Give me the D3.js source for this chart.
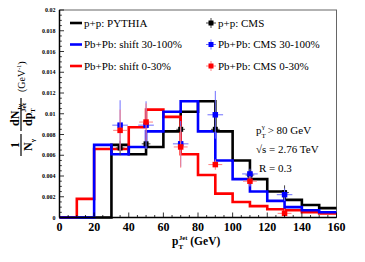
<!DOCTYPE html>
<html>
<head>
<meta charset="utf-8">
<script src="https://cdn.jsdelivr.net/npm/d3@7"></script>
<style>
  body { margin: 0; background: #fff; }
  svg text { font-family: 'Liberation Serif', 'DejaVu Serif', serif; }
</style>
</head>
<body>
<script>
// bin edges of the histograms (GeV)
const binEdges = [0, 10, 20, 30, 40, 50, 60, 70, 80, 90, 100, 110, 120, 130, 140, 150, 160];

// histogram contents, one per bin
const pythiaPP = [0, 0, 0, 0.0070, 0.0061, 0.0068, 0.0083, 0.0102, 0.0112, 0.0083, 0.0055, 0.0037, 0.0025, 0.0017, 0.0012, 0.0009];
const shift30100 = [0, 0, 0.0070, 0.0061, 0.0068, 0.0083, 0.0102, 0.0112, 0.0083, 0.0055, 0.0037, 0.0025, 0.0016, 0.0010, 0.0007, 0.0005];
const shift030 = [0, 0.0018, 0.0066, 0.0066, 0.0087, 0.0104, 0.0097, 0.0061, 0.0041, 0.0023, 0.0015, 0.0011, 0.0008, 0.0007, 0.0005, 0.0004];

// CMS points
const cmsX = [35, 50, 70, 90, 110, 130];
const ppCms = [0.0067, 0.0071, 0.0085, 0.0085, 0.0041, 0.0024];
const ppCmsErr = [0.0007, 0.0005, 0.0005, 0.0004, 0.0004, 0.0007];
const pb30100Cms = [0.0089, 0.0089, 0.0071, 0.0099, 0.0042, 0.0022];
const pb30100Err = [0.0024, 0.0023, 0.0022, 0.0023, 0.0005, 0.0006];
const pb030Cms = [0.0084, 0.0092, 0.0068, 0.0051, 0.0035, 0.0004];
const pb030Err = [0.0020, 0.0018, 0.0020, 0.0005, 0.0005, 0.0004];

const xTicks = [0, 20, 40, 60, 80, 100, 120, 140, 160];
const yTicks = [0, 0.002, 0.004, 0.006, 0.008, 0.01, 0.012, 0.014, 0.016, 0.018, 0.02];
const yTickLabels = ['0', '0.002', '0.004', '0.006', '0.008', '0.01', '0.012', '0.014', '0.016', '0.018', '0.02'];

const W = 365, H = 262;
const margin = { left: 59.5, right: 28.5, top: 10, bottom: 44.5 };

const svg = d3.select('body').append('svg')
  .attr('width', W).attr('height', H);

const x = d3.scaleLinear().domain([0, 160]).range([margin.left, W - margin.right]);
const y = d3.scaleLinear().domain([0, 0.02]).range([H - margin.bottom, margin.top]);

// frame (top and right in grey)
svg.append('rect')
  .attr('x', x(0)).attr('y', y(0.02))
  .attr('width', x(160) - x(0)).attr('height', y(0) - y(0.02))
  .attr('fill', 'none').attr('stroke', '#666').attr('stroke-width', 1);

// histograms as step lines
function histo(vals, color) {
  const pts = [];
  vals.forEach((v, i) => {
    pts.push([binEdges[i], v]);
    pts.push([binEdges[i + 1], v]);
  });
  pts.unshift([0, 0]);
  svg.append('path')
    .attr('d', d3.line().x(d => x(d[0])).y(d => y(d[1]))(pts))
    .attr('fill', 'none')
    .attr('stroke', color)
    .attr('stroke-width', 2.6)
    .attr('stroke-linejoin', 'miter');
}
histo(pythiaPP, '#000');
histo(shift030, '#ff0000');
histo(shift30100, '#0000ff');

// CMS points with error bars
function points(vals, errs, xErr, color, barColor, size) {
  const g = svg.append('g');
  cmsX.forEach((xv, i) => {
    g.append('line')
      .attr('x1', x(xv)).attr('x2', x(xv))
      .attr('y1', y(vals[i] - errs[i])).attr('y2', y(vals[i] + errs[i]))
      .attr('stroke', barColor).attr('stroke-width', 1);
    g.append('line')
      .attr('x1', x(xv - xErr)).attr('x2', x(xv + xErr))
      .attr('y1', y(vals[i])).attr('y2', y(vals[i]))
      .attr('stroke', barColor).attr('stroke-width', 1);
    g.append('rect')
      .attr('x', x(xv) - size / 2).attr('y', y(vals[i]) - size / 2)
      .attr('width', size).attr('height', size)
      .attr('fill', color);
  });
}
points(ppCms, ppCmsErr, 2.5, '#000', '#444', 5);
points(pb30100Cms, pb30100Err, 4.5, '#0000ff', '#6f6fff', 5.5);
points(pb030Cms, pb030Err, 4, '#ff0000', '#ff8080', 5.5);

// axes
const xAxis = svg.append('g');
xAxis.append('line')
  .attr('x1', x(0)).attr('x2', x(160)).attr('y1', y(0)).attr('y2', y(0))
  .attr('stroke', '#000').attr('stroke-width', 1.5);
d3.range(0, 161, 5).forEach(t => {
  const major = t % 20 === 0;
  xAxis.append('line')
    .attr('x1', x(t)).attr('x2', x(t))
    .attr('y1', y(0)).attr('y2', y(0) - (major ? 5 : 2.5))
    .attr('stroke', '#000').attr('stroke-width', 0.8);
});
xAxis.selectAll('text.tick').data(xTicks).join('text')
  .attr('class', 'tick')
  .attr('x', d => x(d)).attr('y', 231)
  .attr('text-anchor', 'middle')
  .attr('font-size', 12).attr('font-weight', 'bold')
  .text(d => d);

const yAxis = svg.append('g');
yAxis.append('line')
  .attr('x1', x(0)).attr('x2', x(0)).attr('y1', y(0)).attr('y2', y(0.02))
  .attr('stroke', '#000').attr('stroke-width', 1.5);
d3.range(0, 41).forEach(k => {
  const t = k * 0.0005;
  const major = k % 4 === 0;
  yAxis.append('line')
    .attr('x1', x(0)).attr('x2', x(0) + (major ? 4.5 : 2.3))
    .attr('y1', y(t)).attr('y2', y(t))
    .attr('stroke', '#000').attr('stroke-width', 0.8);
});
yAxis.selectAll('text.tick').data(yTicks).join('text')
  .attr('class', 'tick')
  .attr('x', 55.5).attr('y', d => y(d) + 2)
  .attr('text-anchor', 'end')
  .attr('font-size', 6).attr('font-weight', 'bold')
  .text((d, i) => yTickLabels[i]);

// x title
const xt = svg.append('text')
  .attr('x', 172).attr('y', 244.5)
  .attr('font-size', 11.5).attr('font-weight', 'bold');
xt.append('tspan').text('p');
xt.append('tspan').attr('font-size', 7).attr('dy', 4).text('T');
xt.append('tspan').attr('font-size', 6.5).attr('dx', -4).attr('dy', -8.5).text('Jet');
xt.append('tspan').attr('dy', 4.5).text(' (GeV)');

// y title (rotated fractions)
const yt = svg.append('g').attr('transform', 'translate(21,112) rotate(-90)');
yt.append('text').attr('x', -33).attr('y', -2.5).attr('text-anchor', 'middle')
  .attr('font-size', 12).attr('font-weight', 'bold').text('1');
yt.append('line').attr('x1', -44).attr('x2', -22).attr('y1', 0).attr('y2', 0)
  .attr('stroke', '#000').attr('stroke-width', 1.2);
const nGam = yt.append('text').attr('x', -39).attr('y', 10.5)
  .attr('font-size', 12).attr('font-weight', 'bold');
nGam.append('tspan').text('N');
nGam.append('tspan').attr('font-size', 7).attr('dy', 3).text('γ');

const dN = yt.append('text').attr('x', -14).attr('y', -2.5)
  .attr('font-size', 12).attr('font-weight', 'bold');
dN.append('tspan').text('dN');
dN.append('tspan').attr('font-size', 7).attr('dy', 3).text('Jγ');
yt.append('line').attr('x1', -19).attr('x2', 14).attr('y1', 0).attr('y2', 0)
  .attr('stroke', '#000').attr('stroke-width', 1.2);
const dp = yt.append('text').attr('x', -14).attr('y', 10.5)
  .attr('font-size', 12).attr('font-weight', 'bold');
dp.append('tspan').text('dp');
dp.append('tspan').attr('font-size', 7).attr('dy', 3).text('T');
dp.append('tspan').attr('font-size', 7).attr('dx', -4).attr('dy', -9).text('Jet');

const gev = yt.append('text').attr('x', 20).attr('y', 4)
  .attr('font-size', 10);
gev.append('tspan').text('(GeV');
gev.append('tspan').attr('font-size', 6).attr('dy', -4).text('-1');
gev.append('tspan').attr('dy', 4).text(')');

// legend
const legLeft = [
  { label: 'p+p: PYTHIA', color: '#000' },
  { label: 'Pb+Pb: shift 30-100%', color: '#0000ff' },
  { label: 'Pb+Pb: shift 0-30%', color: '#ff0000' },
];
const legRight = [
  { label: 'p+p: CMS', color: '#000', bar: '#444' },
  { label: 'Pb+Pb: CMS 30-100%', color: '#0000ff', bar: '#6f6fff' },
  { label: 'Pb+Pb: CMS 0-30%', color: '#ff0000', bar: '#ff8080' },
];
const legY = [23, 44.5, 66];
legLeft.forEach((d, i) => {
  svg.append('line')
    .attr('x1', 70).attr('x2', 82).attr('y1', legY[i]).attr('y2', legY[i])
    .attr('stroke', d.color).attr('stroke-width', 2.6);
  svg.append('text').attr('x', 84).attr('y', legY[i] + 3.8)
    .attr('font-size', 11).text(d.label);
});
legRight.forEach((d, i) => {
  const cx = 211, cy = legY[i];
  svg.append('line').attr('x1', cx - 5).attr('x2', cx + 5).attr('y1', cy).attr('y2', cy)
    .attr('stroke', d.bar).attr('stroke-width', 1);
  svg.append('line').attr('x1', cx).attr('x2', cx).attr('y1', cy - 5).attr('y2', cy + 5)
    .attr('stroke', d.bar).attr('stroke-width', 1);
  svg.append('rect').attr('x', cx - 2.5).attr('y', cy - 2.5).attr('width', 5).attr('height', 5)
    .attr('fill', d.color);
  svg.append('text').attr('x', 218).attr('y', cy + 3.8)
    .attr('font-size', 11).text(d.label);
});

// annotations
const a1 = svg.append('text').attr('x', 256).attr('y', 134).attr('font-size', 11);
a1.append('tspan').text('p');
a1.append('tspan').attr('font-size', 7).attr('dy', 4).text('T');
a1.append('tspan').attr('font-size', 7).attr('dx', -4).attr('dy', -9).text('γ');
a1.append('tspan').attr('dy', 5).text(' > 80 GeV');
svg.append('text').attr('x', 256).attr('y', 153).attr('font-size', 11).text('√s = 2.76 TeV');
svg.append('text').attr('x', 259).attr('y', 172).attr('font-size', 11).text('R = 0.3');
</script>
</body>
</html>
